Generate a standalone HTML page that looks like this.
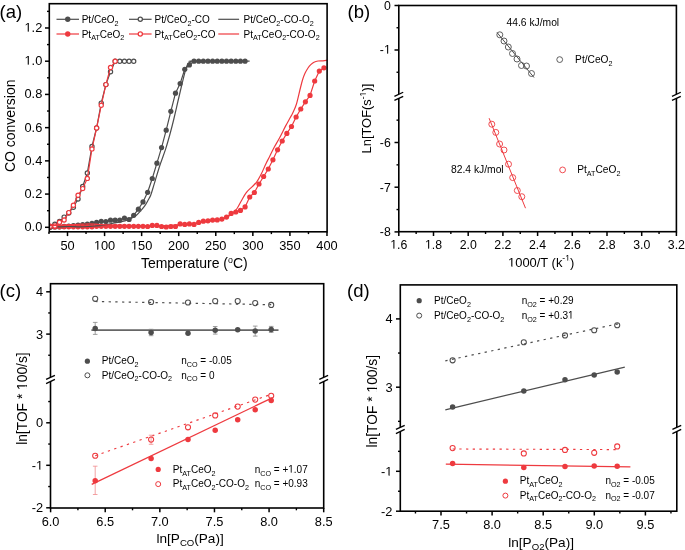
<!DOCTYPE html>
<html><head><meta charset="utf-8"><style>
html,body{margin:0;padding:0;background:#fff;width:685px;height:550px;overflow:hidden}
svg{display:block;will-change:transform}
text{font-family:"Liberation Sans", sans-serif;fill:#000}
</style></head><body>
<svg width="685" height="550" viewBox="0 0 685 550">
<defs><clipPath id="clipA"><rect x="49.3" y="3.7" width="277.8" height="228.10000000000002"/></clipPath></defs>
<rect width="685" height="550" fill="#fff"/>
<line x1="45.00" y1="227.30" x2="49.30" y2="227.30" stroke="#000" stroke-width="1.5" />
<text x="42.30" y="231.30" font-size="12.8" text-anchor="end" >0.0</text>
<line x1="45.00" y1="194.08" x2="49.30" y2="194.08" stroke="#000" stroke-width="1.5" />
<text x="42.30" y="198.08" font-size="12.8" text-anchor="end" >0.2</text>
<line x1="45.00" y1="160.86" x2="49.30" y2="160.86" stroke="#000" stroke-width="1.5" />
<text x="42.30" y="164.86" font-size="12.8" text-anchor="end" >0.4</text>
<line x1="45.00" y1="127.64" x2="49.30" y2="127.64" stroke="#000" stroke-width="1.5" />
<text x="42.30" y="131.64" font-size="12.8" text-anchor="end" >0.6</text>
<line x1="45.00" y1="94.42" x2="49.30" y2="94.42" stroke="#000" stroke-width="1.5" />
<text x="42.30" y="98.42" font-size="12.8" text-anchor="end" >0.8</text>
<line x1="45.00" y1="61.20" x2="49.30" y2="61.20" stroke="#000" stroke-width="1.5" />
<text x="42.30" y="65.20" font-size="12.8" text-anchor="end" >1.0</text>
<line x1="45.00" y1="27.98" x2="49.30" y2="27.98" stroke="#000" stroke-width="1.5" />
<text x="42.30" y="31.98" font-size="12.8" text-anchor="end" >1.2</text>
<line x1="47.00" y1="210.69" x2="49.30" y2="210.69" stroke="#000" stroke-width="1.4" />
<line x1="47.00" y1="177.47" x2="49.30" y2="177.47" stroke="#000" stroke-width="1.4" />
<line x1="47.00" y1="144.25" x2="49.30" y2="144.25" stroke="#000" stroke-width="1.4" />
<line x1="47.00" y1="111.03" x2="49.30" y2="111.03" stroke="#000" stroke-width="1.4" />
<line x1="47.00" y1="77.81" x2="49.30" y2="77.81" stroke="#000" stroke-width="1.4" />
<line x1="47.00" y1="44.59" x2="49.30" y2="44.59" stroke="#000" stroke-width="1.4" />
<line x1="47.00" y1="11.37" x2="49.30" y2="11.37" stroke="#000" stroke-width="1.4" />
<line x1="67.50" y1="231.80" x2="67.50" y2="236.10" stroke="#000" stroke-width="1.5" />
<text x="67.50" y="249.60" font-size="12.8" text-anchor="middle" >50</text>
<line x1="104.57" y1="231.80" x2="104.57" y2="236.10" stroke="#000" stroke-width="1.5" />
<text x="104.57" y="249.60" font-size="12.8" text-anchor="middle" >100</text>
<line x1="141.64" y1="231.80" x2="141.64" y2="236.10" stroke="#000" stroke-width="1.5" />
<text x="141.64" y="249.60" font-size="12.8" text-anchor="middle" >150</text>
<line x1="178.71" y1="231.80" x2="178.71" y2="236.10" stroke="#000" stroke-width="1.5" />
<text x="178.71" y="249.60" font-size="12.8" text-anchor="middle" >200</text>
<line x1="215.78" y1="231.80" x2="215.78" y2="236.10" stroke="#000" stroke-width="1.5" />
<text x="215.78" y="249.60" font-size="12.8" text-anchor="middle" >250</text>
<line x1="252.85" y1="231.80" x2="252.85" y2="236.10" stroke="#000" stroke-width="1.5" />
<text x="252.85" y="249.60" font-size="12.8" text-anchor="middle" >300</text>
<line x1="289.92" y1="231.80" x2="289.92" y2="236.10" stroke="#000" stroke-width="1.5" />
<text x="289.92" y="249.60" font-size="12.8" text-anchor="middle" >350</text>
<line x1="326.99" y1="231.80" x2="326.99" y2="236.10" stroke="#000" stroke-width="1.5" />
<text x="326.99" y="249.60" font-size="12.8" text-anchor="middle" >400</text>
<line x1="48.97" y1="231.80" x2="48.97" y2="234.10" stroke="#000" stroke-width="1.4" />
<line x1="86.03" y1="231.80" x2="86.03" y2="234.10" stroke="#000" stroke-width="1.4" />
<line x1="123.10" y1="231.80" x2="123.10" y2="234.10" stroke="#000" stroke-width="1.4" />
<line x1="160.18" y1="231.80" x2="160.18" y2="234.10" stroke="#000" stroke-width="1.4" />
<line x1="197.25" y1="231.80" x2="197.25" y2="234.10" stroke="#000" stroke-width="1.4" />
<line x1="234.31" y1="231.80" x2="234.31" y2="234.10" stroke="#000" stroke-width="1.4" />
<line x1="271.38" y1="231.80" x2="271.38" y2="234.10" stroke="#000" stroke-width="1.4" />
<line x1="308.45" y1="231.80" x2="308.45" y2="234.10" stroke="#000" stroke-width="1.4" />
<g clip-path="url(#clipA)">
<polyline points="50.20,227.30 54.84,227.00 59.48,226.80 64.12,226.40 68.76,226.00 73.40,225.50 78.04,225.00 82.68,224.50 87.32,224.00 91.96,223.40 96.60,222.40 101.24,221.30 105.88,221.60 110.52,220.20 115.16,220.20 119.80,220.20 124.44,218.00 129.08,219.50 133.72,215.30 138.36,209.20 143.00,201.90 147.64,192.30 152.28,178.50 156.92,163.20 161.56,147.60 166.20,130.20 170.84,111.30 175.48,93.20 180.12,83.60 184.76,69.30 189.40,64.90 194.04,61.20 198.68,61.20 203.32,61.20 207.96,61.20 212.60,61.20 217.24,61.20 221.88,61.20 226.52,61.20 231.16,61.20 235.80,61.20 240.44,61.20 245.08,61.20" fill="none" stroke="#4d4d4d" stroke-width="1.2" stroke-linejoin="round" />
<circle cx="50.20" cy="227.30" r="2.6" fill="#4d4d4d"/>
<circle cx="54.84" cy="227.00" r="2.6" fill="#4d4d4d"/>
<circle cx="59.48" cy="226.80" r="2.6" fill="#4d4d4d"/>
<circle cx="64.12" cy="226.40" r="2.6" fill="#4d4d4d"/>
<circle cx="68.76" cy="226.00" r="2.6" fill="#4d4d4d"/>
<circle cx="73.40" cy="225.50" r="2.6" fill="#4d4d4d"/>
<circle cx="78.04" cy="225.00" r="2.6" fill="#4d4d4d"/>
<circle cx="82.68" cy="224.50" r="2.6" fill="#4d4d4d"/>
<circle cx="87.32" cy="224.00" r="2.6" fill="#4d4d4d"/>
<circle cx="91.96" cy="223.40" r="2.6" fill="#4d4d4d"/>
<circle cx="96.60" cy="222.40" r="2.6" fill="#4d4d4d"/>
<circle cx="101.24" cy="221.30" r="2.6" fill="#4d4d4d"/>
<circle cx="105.88" cy="221.60" r="2.6" fill="#4d4d4d"/>
<circle cx="110.52" cy="220.20" r="2.6" fill="#4d4d4d"/>
<circle cx="115.16" cy="220.20" r="2.6" fill="#4d4d4d"/>
<circle cx="119.80" cy="220.20" r="2.6" fill="#4d4d4d"/>
<circle cx="124.44" cy="218.00" r="2.6" fill="#4d4d4d"/>
<circle cx="129.08" cy="219.50" r="2.6" fill="#4d4d4d"/>
<circle cx="133.72" cy="215.30" r="2.6" fill="#4d4d4d"/>
<circle cx="138.36" cy="209.20" r="2.6" fill="#4d4d4d"/>
<circle cx="143.00" cy="201.90" r="2.6" fill="#4d4d4d"/>
<circle cx="147.64" cy="192.30" r="2.6" fill="#4d4d4d"/>
<circle cx="152.28" cy="178.50" r="2.6" fill="#4d4d4d"/>
<circle cx="156.92" cy="163.20" r="2.6" fill="#4d4d4d"/>
<circle cx="161.56" cy="147.60" r="2.6" fill="#4d4d4d"/>
<circle cx="166.20" cy="130.20" r="2.6" fill="#4d4d4d"/>
<circle cx="170.84" cy="111.30" r="2.6" fill="#4d4d4d"/>
<circle cx="175.48" cy="93.20" r="2.6" fill="#4d4d4d"/>
<circle cx="180.12" cy="83.60" r="2.6" fill="#4d4d4d"/>
<circle cx="184.76" cy="69.30" r="2.6" fill="#4d4d4d"/>
<circle cx="189.40" cy="64.90" r="2.6" fill="#4d4d4d"/>
<circle cx="194.04" cy="61.20" r="2.6" fill="#4d4d4d"/>
<circle cx="198.68" cy="61.20" r="2.6" fill="#4d4d4d"/>
<circle cx="203.32" cy="61.20" r="2.6" fill="#4d4d4d"/>
<circle cx="207.96" cy="61.20" r="2.6" fill="#4d4d4d"/>
<circle cx="212.60" cy="61.20" r="2.6" fill="#4d4d4d"/>
<circle cx="217.24" cy="61.20" r="2.6" fill="#4d4d4d"/>
<circle cx="221.88" cy="61.20" r="2.6" fill="#4d4d4d"/>
<circle cx="226.52" cy="61.20" r="2.6" fill="#4d4d4d"/>
<circle cx="231.16" cy="61.20" r="2.6" fill="#4d4d4d"/>
<circle cx="235.80" cy="61.20" r="2.6" fill="#4d4d4d"/>
<circle cx="240.44" cy="61.20" r="2.6" fill="#4d4d4d"/>
<circle cx="245.08" cy="61.20" r="2.6" fill="#4d4d4d"/>
<polyline points="50.20,226.80 54.84,226.80 59.48,226.80 64.12,226.80 68.76,226.80 73.40,226.80 78.04,226.80 82.68,226.80 87.32,226.80 91.96,226.80 96.60,226.30 101.24,226.30 105.88,226.30 110.52,226.30 115.16,226.30 119.80,226.30 124.44,226.30 129.08,226.30 133.72,226.30 138.36,226.30 143.00,226.30 147.64,226.50 152.28,225.40 156.92,225.40 161.56,226.50 166.20,227.00 170.84,226.50 175.48,226.50 180.12,223.90 184.76,224.40 189.40,223.90 194.04,224.40 198.68,222.40 203.32,221.20 207.96,220.80 212.60,220.10 217.24,219.90 221.88,219.10 226.52,217.10 231.16,213.40 235.80,212.00 240.44,210.40 245.08,206.90 249.72,197.00 254.36,192.50 259.00,184.00 263.64,176.50 268.28,169.00 272.92,159.80 277.56,149.80 282.20,141.00 286.84,133.40 291.48,126.50 296.12,117.00 300.76,109.00 305.40,101.80 310.04,95.40 314.68,81.00 319.32,71.10 323.96,67.80" fill="none" stroke="#ee3a3f" stroke-width="1.2" stroke-linejoin="round" />
<circle cx="50.20" cy="226.80" r="2.6" fill="#ee3a3f"/>
<circle cx="54.84" cy="226.80" r="2.6" fill="#ee3a3f"/>
<circle cx="59.48" cy="226.80" r="2.6" fill="#ee3a3f"/>
<circle cx="64.12" cy="226.80" r="2.6" fill="#ee3a3f"/>
<circle cx="68.76" cy="226.80" r="2.6" fill="#ee3a3f"/>
<circle cx="73.40" cy="226.80" r="2.6" fill="#ee3a3f"/>
<circle cx="78.04" cy="226.80" r="2.6" fill="#ee3a3f"/>
<circle cx="82.68" cy="226.80" r="2.6" fill="#ee3a3f"/>
<circle cx="87.32" cy="226.80" r="2.6" fill="#ee3a3f"/>
<circle cx="91.96" cy="226.80" r="2.6" fill="#ee3a3f"/>
<circle cx="96.60" cy="226.30" r="2.6" fill="#ee3a3f"/>
<circle cx="101.24" cy="226.30" r="2.6" fill="#ee3a3f"/>
<circle cx="105.88" cy="226.30" r="2.6" fill="#ee3a3f"/>
<circle cx="110.52" cy="226.30" r="2.6" fill="#ee3a3f"/>
<circle cx="115.16" cy="226.30" r="2.6" fill="#ee3a3f"/>
<circle cx="119.80" cy="226.30" r="2.6" fill="#ee3a3f"/>
<circle cx="124.44" cy="226.30" r="2.6" fill="#ee3a3f"/>
<circle cx="129.08" cy="226.30" r="2.6" fill="#ee3a3f"/>
<circle cx="133.72" cy="226.30" r="2.6" fill="#ee3a3f"/>
<circle cx="138.36" cy="226.30" r="2.6" fill="#ee3a3f"/>
<circle cx="143.00" cy="226.30" r="2.6" fill="#ee3a3f"/>
<circle cx="147.64" cy="226.50" r="2.6" fill="#ee3a3f"/>
<circle cx="152.28" cy="225.40" r="2.6" fill="#ee3a3f"/>
<circle cx="156.92" cy="225.40" r="2.6" fill="#ee3a3f"/>
<circle cx="161.56" cy="226.50" r="2.6" fill="#ee3a3f"/>
<circle cx="166.20" cy="227.00" r="2.6" fill="#ee3a3f"/>
<circle cx="170.84" cy="226.50" r="2.6" fill="#ee3a3f"/>
<circle cx="175.48" cy="226.50" r="2.6" fill="#ee3a3f"/>
<circle cx="180.12" cy="223.90" r="2.6" fill="#ee3a3f"/>
<circle cx="184.76" cy="224.40" r="2.6" fill="#ee3a3f"/>
<circle cx="189.40" cy="223.90" r="2.6" fill="#ee3a3f"/>
<circle cx="194.04" cy="224.40" r="2.6" fill="#ee3a3f"/>
<circle cx="198.68" cy="222.40" r="2.6" fill="#ee3a3f"/>
<circle cx="203.32" cy="221.20" r="2.6" fill="#ee3a3f"/>
<circle cx="207.96" cy="220.80" r="2.6" fill="#ee3a3f"/>
<circle cx="212.60" cy="220.10" r="2.6" fill="#ee3a3f"/>
<circle cx="217.24" cy="219.90" r="2.6" fill="#ee3a3f"/>
<circle cx="221.88" cy="219.10" r="2.6" fill="#ee3a3f"/>
<circle cx="226.52" cy="217.10" r="2.6" fill="#ee3a3f"/>
<circle cx="231.16" cy="213.40" r="2.6" fill="#ee3a3f"/>
<circle cx="235.80" cy="212.00" r="2.6" fill="#ee3a3f"/>
<circle cx="240.44" cy="210.40" r="2.6" fill="#ee3a3f"/>
<circle cx="245.08" cy="206.90" r="2.6" fill="#ee3a3f"/>
<circle cx="249.72" cy="197.00" r="2.6" fill="#ee3a3f"/>
<circle cx="254.36" cy="192.50" r="2.6" fill="#ee3a3f"/>
<circle cx="259.00" cy="184.00" r="2.6" fill="#ee3a3f"/>
<circle cx="263.64" cy="176.50" r="2.6" fill="#ee3a3f"/>
<circle cx="268.28" cy="169.00" r="2.6" fill="#ee3a3f"/>
<circle cx="272.92" cy="159.80" r="2.6" fill="#ee3a3f"/>
<circle cx="277.56" cy="149.80" r="2.6" fill="#ee3a3f"/>
<circle cx="282.20" cy="141.00" r="2.6" fill="#ee3a3f"/>
<circle cx="286.84" cy="133.40" r="2.6" fill="#ee3a3f"/>
<circle cx="291.48" cy="126.50" r="2.6" fill="#ee3a3f"/>
<circle cx="296.12" cy="117.00" r="2.6" fill="#ee3a3f"/>
<circle cx="300.76" cy="109.00" r="2.6" fill="#ee3a3f"/>
<circle cx="305.40" cy="101.80" r="2.6" fill="#ee3a3f"/>
<circle cx="310.04" cy="95.40" r="2.6" fill="#ee3a3f"/>
<circle cx="314.68" cy="81.00" r="2.6" fill="#ee3a3f"/>
<circle cx="319.32" cy="71.10" r="2.6" fill="#ee3a3f"/>
<circle cx="323.96" cy="67.80" r="2.6" fill="#ee3a3f"/>
<path d="M49.60,226.60 C51.33,226.63 56.60,226.82 60.00,226.80 C63.40,226.78 66.67,226.48 70.00,226.50 C73.33,226.52 76.67,226.92 80.00,226.90 C83.33,226.88 86.67,226.62 90.00,226.40 C93.33,226.18 96.10,226.13 100.00,225.60 C103.90,225.07 109.23,223.98 113.40,223.20 C117.57,222.42 122.07,221.68 125.00,220.90 C127.93,220.12 129.05,219.48 131.00,218.50 C132.95,217.52 135.03,216.33 136.70,215.00 C138.37,213.67 139.63,212.05 141.00,210.50 C142.37,208.95 143.70,207.45 144.90,205.70 C146.10,203.95 147.23,201.75 148.20,200.00 C149.17,198.25 149.90,197.20 150.70,195.20 C151.50,193.20 152.22,190.53 153.00,188.00 C153.78,185.47 154.23,183.83 155.40,180.00 C156.57,176.17 158.30,170.15 160.00,165.00 C161.70,159.85 163.93,154.27 165.60,149.10 C167.27,143.93 168.67,138.85 170.00,134.00 C171.33,129.15 172.27,125.50 173.60,120.00 C174.93,114.50 176.60,107.00 178.00,101.00 C179.40,95.00 180.70,89.33 182.00,84.00 C183.30,78.67 184.80,72.33 185.80,69.00 C186.80,65.67 187.13,65.23 188.00,64.00 C188.87,62.77 190.00,62.07 191.00,61.60 C192.00,61.13 184.23,61.27 194.00,61.20 C203.77,61.13 240.33,61.20 249.60,61.20" fill="none" stroke="#4d4d4d" stroke-width="1.2"/>
<polyline points="50.20,226.80 54.84,224.20 59.48,221.50 64.12,217.10 68.76,213.00 73.40,207.20 78.04,199.00 82.68,186.50 87.32,172.90 91.96,146.50 96.60,128.00 101.24,103.10 105.88,84.60 110.52,71.70 115.16,61.30 119.80,61.30 124.44,61.30 129.08,61.30 133.72,61.30" fill="none" stroke="#4d4d4d" stroke-width="1.2" stroke-linejoin="round" />
<circle cx="50.20" cy="226.80" r="2.1" fill="#fff" stroke="#4d4d4d" stroke-width="1.2"/>
<circle cx="54.84" cy="224.20" r="2.1" fill="#fff" stroke="#4d4d4d" stroke-width="1.2"/>
<circle cx="59.48" cy="221.50" r="2.1" fill="#fff" stroke="#4d4d4d" stroke-width="1.2"/>
<circle cx="64.12" cy="217.10" r="2.1" fill="#fff" stroke="#4d4d4d" stroke-width="1.2"/>
<circle cx="68.76" cy="213.00" r="2.1" fill="#fff" stroke="#4d4d4d" stroke-width="1.2"/>
<circle cx="73.40" cy="207.20" r="2.1" fill="#fff" stroke="#4d4d4d" stroke-width="1.2"/>
<circle cx="78.04" cy="199.00" r="2.1" fill="#fff" stroke="#4d4d4d" stroke-width="1.2"/>
<circle cx="82.68" cy="186.50" r="2.1" fill="#fff" stroke="#4d4d4d" stroke-width="1.2"/>
<circle cx="87.32" cy="172.90" r="2.1" fill="#fff" stroke="#4d4d4d" stroke-width="1.2"/>
<circle cx="91.96" cy="146.50" r="2.1" fill="#fff" stroke="#4d4d4d" stroke-width="1.2"/>
<circle cx="96.60" cy="128.00" r="2.1" fill="#fff" stroke="#4d4d4d" stroke-width="1.2"/>
<circle cx="101.24" cy="103.10" r="2.1" fill="#fff" stroke="#4d4d4d" stroke-width="1.2"/>
<circle cx="105.88" cy="84.60" r="2.1" fill="#fff" stroke="#4d4d4d" stroke-width="1.2"/>
<circle cx="110.52" cy="71.70" r="2.1" fill="#fff" stroke="#4d4d4d" stroke-width="1.2"/>
<circle cx="115.16" cy="61.30" r="2.1" fill="#fff" stroke="#4d4d4d" stroke-width="1.2"/>
<circle cx="119.80" cy="61.30" r="2.1" fill="#fff" stroke="#4d4d4d" stroke-width="1.2"/>
<circle cx="124.44" cy="61.30" r="2.1" fill="#fff" stroke="#4d4d4d" stroke-width="1.2"/>
<circle cx="129.08" cy="61.30" r="2.1" fill="#fff" stroke="#4d4d4d" stroke-width="1.2"/>
<circle cx="133.72" cy="61.30" r="2.1" fill="#fff" stroke="#4d4d4d" stroke-width="1.2"/>
<polyline points="50.20,226.30 54.84,225.90 59.48,222.20 64.12,220.00 68.76,212.60 73.40,205.30 78.04,195.20 82.68,188.60 87.32,178.40 91.96,148.90 96.60,128.00 101.24,105.30 105.88,84.60 110.52,67.50 115.16,61.30" fill="none" stroke="#ee3a3f" stroke-width="1.2" stroke-linejoin="round" />
<circle cx="50.20" cy="226.30" r="2.1" fill="#fff" stroke="#ee3a3f" stroke-width="1.2"/>
<circle cx="54.84" cy="225.90" r="2.1" fill="#fff" stroke="#ee3a3f" stroke-width="1.2"/>
<circle cx="59.48" cy="222.20" r="2.1" fill="#fff" stroke="#ee3a3f" stroke-width="1.2"/>
<circle cx="64.12" cy="220.00" r="2.1" fill="#fff" stroke="#ee3a3f" stroke-width="1.2"/>
<circle cx="68.76" cy="212.60" r="2.1" fill="#fff" stroke="#ee3a3f" stroke-width="1.2"/>
<circle cx="73.40" cy="205.30" r="2.1" fill="#fff" stroke="#ee3a3f" stroke-width="1.2"/>
<circle cx="78.04" cy="195.20" r="2.1" fill="#fff" stroke="#ee3a3f" stroke-width="1.2"/>
<circle cx="82.68" cy="188.60" r="2.1" fill="#fff" stroke="#ee3a3f" stroke-width="1.2"/>
<circle cx="87.32" cy="178.40" r="2.1" fill="#fff" stroke="#ee3a3f" stroke-width="1.2"/>
<circle cx="91.96" cy="148.90" r="2.1" fill="#fff" stroke="#ee3a3f" stroke-width="1.2"/>
<circle cx="96.60" cy="128.00" r="2.1" fill="#fff" stroke="#ee3a3f" stroke-width="1.2"/>
<circle cx="101.24" cy="105.30" r="2.1" fill="#fff" stroke="#ee3a3f" stroke-width="1.2"/>
<circle cx="105.88" cy="84.60" r="2.1" fill="#fff" stroke="#ee3a3f" stroke-width="1.2"/>
<circle cx="110.52" cy="67.50" r="2.1" fill="#fff" stroke="#ee3a3f" stroke-width="1.2"/>
<circle cx="115.16" cy="61.30" r="2.1" fill="#fff" stroke="#ee3a3f" stroke-width="1.2"/>
<path d="M49.60,225.60 C51.33,225.53 56.27,225.37 60.00,225.20 C63.73,225.03 68.33,224.77 72.00,224.60 C75.67,224.43 79.00,224.33 82.00,224.20 C85.00,224.07 87.00,223.73 90.00,223.80 C93.00,223.87 95.83,224.37 100.00,224.60 C104.17,224.83 109.17,225.03 115.00,225.20 C120.83,225.37 127.50,225.50 135.00,225.60 C142.50,225.70 152.50,225.97 160.00,225.80 C167.50,225.63 174.17,224.97 180.00,224.60 C185.83,224.23 190.83,224.07 195.00,223.60 C199.17,223.13 201.67,222.32 205.00,221.80 C208.33,221.28 211.67,221.05 215.00,220.50 C218.33,219.95 222.33,219.50 225.00,218.50 C227.67,217.50 229.05,216.08 231.00,214.50 C232.95,212.92 234.97,211.30 236.70,209.00 C238.43,206.70 239.83,203.40 241.40,200.70 C242.97,198.00 244.33,195.12 246.10,192.80 C247.87,190.48 250.22,188.63 252.00,186.80 C253.78,184.97 255.22,184.02 256.80,181.80 C258.38,179.58 260.02,176.43 261.50,173.50 C262.98,170.57 264.38,166.97 265.70,164.20 C267.02,161.43 268.07,159.57 269.40,156.90 C270.73,154.23 272.02,151.35 273.70,148.20 C275.38,145.05 277.55,141.63 279.50,138.00 C281.45,134.37 283.65,129.73 285.40,126.40 C287.15,123.07 288.80,120.18 290.00,118.00 C291.20,115.82 291.55,115.55 292.60,113.30 C293.65,111.05 295.08,108.38 296.30,104.50 C297.52,100.62 298.87,94.08 299.90,90.00 C300.93,85.92 301.65,82.78 302.50,80.00 C303.35,77.22 304.08,75.30 305.00,73.30 C305.92,71.30 307.03,69.45 308.00,68.00 C308.97,66.55 309.80,65.57 310.80,64.60 C311.80,63.63 312.80,62.80 314.00,62.20 C315.20,61.60 316.50,61.23 318.00,61.00 C319.50,60.77 321.48,60.93 323.00,60.80 C324.52,60.67 326.42,60.30 327.10,60.20" fill="none" stroke="#ee3a3f" stroke-width="1.2"/>
</g>
<rect x="49.30" y="3.70" width="277.80" height="228.10" fill="none" stroke="#000" stroke-width="1.6"/>
<line x1="56.50" y1="19.30" x2="79.00" y2="19.30" stroke="#4d4d4d" stroke-width="1.2" />
<circle cx="67.75" cy="19.30" r="2.7" fill="#4d4d4d"/>
<text x="81.70" y="23.00" font-size="10.0" text-anchor="start" >Pt/CeO<tspan font-size="7.2" dy="2.6">2</tspan><tspan dy="-2.6"></tspan></text>
<line x1="129.00" y1="19.30" x2="151.60" y2="19.30" stroke="#4d4d4d" stroke-width="1.2" />
<circle cx="140.30" cy="19.30" r="2.1" fill="#fff" stroke="#4d4d4d" stroke-width="1.25"/>
<text x="154.60" y="23.00" font-size="10.0" text-anchor="start" >Pt/CeO<tspan font-size="7.2" dy="2.6">2</tspan><tspan dy="-2.6">-CO</tspan></text>
<line x1="218.30" y1="19.30" x2="239.10" y2="19.30" stroke="#4d4d4d" stroke-width="1.2" />
<text x="243.50" y="23.00" font-size="10.0" text-anchor="start" >Pt/CeO<tspan font-size="7.2" dy="2.6">2</tspan><tspan dy="-2.6">-CO-O</tspan><tspan font-size="7.2" dy="2.6">2</tspan></text>
<line x1="56.50" y1="34.00" x2="79.00" y2="34.00" stroke="#ee3a3f" stroke-width="1.2" />
<circle cx="67.75" cy="34.00" r="2.7" fill="#ee3a3f"/>
<text x="81.70" y="37.70" font-size="10.0" text-anchor="start" >Pt<tspan font-size="7.2" dy="2.6">AT</tspan><tspan dy="-2.6">CeO</tspan><tspan font-size="7.2" dy="2.6">2</tspan><tspan dy="-2.6"></tspan></text>
<line x1="129.00" y1="34.00" x2="151.60" y2="34.00" stroke="#ee3a3f" stroke-width="1.2" />
<circle cx="140.30" cy="34.00" r="2.1" fill="#fff" stroke="#ee3a3f" stroke-width="1.25"/>
<text x="154.60" y="37.70" font-size="10.0" text-anchor="start" >Pt<tspan font-size="7.2" dy="2.6">AT</tspan><tspan dy="-2.6">CeO</tspan><tspan font-size="7.2" dy="2.6">2</tspan><tspan dy="-2.6">-CO</tspan></text>
<line x1="218.30" y1="34.00" x2="239.10" y2="34.00" stroke="#ee3a3f" stroke-width="1.2" />
<text x="243.50" y="37.70" font-size="10.0" text-anchor="start" >Pt<tspan font-size="7.2" dy="2.6">AT</tspan><tspan dy="-2.6">CeO</tspan><tspan font-size="7.2" dy="2.6">2</tspan><tspan dy="-2.6">-CO-O</tspan><tspan font-size="7.2" dy="2.6">2</tspan></text>
<text x="194.30" y="268.20" font-size="14" text-anchor="middle" >Temperature (<tspan font-size="8.8" dy="-5.2">o</tspan><tspan dy="5.2">C)</tspan></text>
<text transform="translate(15.3,125.8) rotate(-90)" font-size="14" text-anchor="middle">CO conversion</text>
<text x="-0.50" y="18.00" font-size="18.5" text-anchor="start" >(a)</text>
<line x1="394.50" y1="5.50" x2="398.80" y2="5.50" stroke="#000" stroke-width="1.5" />
<text x="390.80" y="9.80" font-size="12.3" text-anchor="end" >0</text>
<line x1="394.50" y1="50.00" x2="398.80" y2="50.00" stroke="#000" stroke-width="1.5" />
<text x="390.80" y="54.30" font-size="12.3" text-anchor="end" >-1</text>
<line x1="396.50" y1="27.75" x2="398.80" y2="27.75" stroke="#000" stroke-width="1.4" />
<line x1="396.50" y1="72.25" x2="398.80" y2="72.25" stroke="#000" stroke-width="1.4" />
<line x1="394.50" y1="142.50" x2="398.80" y2="142.50" stroke="#000" stroke-width="1.5" />
<text x="390.80" y="146.80" font-size="12.3" text-anchor="end" >-6</text>
<line x1="394.50" y1="187.20" x2="398.80" y2="187.20" stroke="#000" stroke-width="1.5" />
<text x="390.80" y="191.50" font-size="12.3" text-anchor="end" >-7</text>
<line x1="394.50" y1="231.90" x2="398.80" y2="231.90" stroke="#000" stroke-width="1.5" />
<text x="390.80" y="236.20" font-size="12.3" text-anchor="end" >-8</text>
<line x1="396.50" y1="120.15" x2="398.80" y2="120.15" stroke="#000" stroke-width="1.4" />
<line x1="396.50" y1="164.85" x2="398.80" y2="164.85" stroke="#000" stroke-width="1.4" />
<line x1="396.50" y1="209.55" x2="398.80" y2="209.55" stroke="#000" stroke-width="1.4" />
<line x1="398.80" y1="231.70" x2="398.80" y2="236.00" stroke="#000" stroke-width="1.5" />
<text x="398.80" y="249.40" font-size="12.3" text-anchor="middle" >1.6</text>
<line x1="433.50" y1="231.70" x2="433.50" y2="236.00" stroke="#000" stroke-width="1.5" />
<text x="433.50" y="249.40" font-size="12.3" text-anchor="middle" >1.8</text>
<line x1="468.20" y1="231.70" x2="468.20" y2="236.00" stroke="#000" stroke-width="1.5" />
<text x="468.20" y="249.40" font-size="12.3" text-anchor="middle" >2.0</text>
<line x1="502.90" y1="231.70" x2="502.90" y2="236.00" stroke="#000" stroke-width="1.5" />
<text x="502.90" y="249.40" font-size="12.3" text-anchor="middle" >2.2</text>
<line x1="537.60" y1="231.70" x2="537.60" y2="236.00" stroke="#000" stroke-width="1.5" />
<text x="537.60" y="249.40" font-size="12.3" text-anchor="middle" >2.4</text>
<line x1="572.30" y1="231.70" x2="572.30" y2="236.00" stroke="#000" stroke-width="1.5" />
<text x="572.30" y="249.40" font-size="12.3" text-anchor="middle" >2.6</text>
<line x1="607.00" y1="231.70" x2="607.00" y2="236.00" stroke="#000" stroke-width="1.5" />
<text x="607.00" y="249.40" font-size="12.3" text-anchor="middle" >2.8</text>
<line x1="641.70" y1="231.70" x2="641.70" y2="236.00" stroke="#000" stroke-width="1.5" />
<text x="641.70" y="249.40" font-size="12.3" text-anchor="middle" >3.0</text>
<line x1="676.40" y1="231.70" x2="676.40" y2="236.00" stroke="#000" stroke-width="1.5" />
<text x="676.40" y="249.40" font-size="12.3" text-anchor="middle" >3.2</text>
<line x1="416.15" y1="231.70" x2="416.15" y2="234.00" stroke="#000" stroke-width="1.4" />
<line x1="450.85" y1="231.70" x2="450.85" y2="234.00" stroke="#000" stroke-width="1.4" />
<line x1="485.55" y1="231.70" x2="485.55" y2="234.00" stroke="#000" stroke-width="1.4" />
<line x1="520.25" y1="231.70" x2="520.25" y2="234.00" stroke="#000" stroke-width="1.4" />
<line x1="554.95" y1="231.70" x2="554.95" y2="234.00" stroke="#000" stroke-width="1.4" />
<line x1="589.65" y1="231.70" x2="589.65" y2="234.00" stroke="#000" stroke-width="1.4" />
<line x1="624.35" y1="231.70" x2="624.35" y2="234.00" stroke="#000" stroke-width="1.4" />
<line x1="659.05" y1="231.70" x2="659.05" y2="234.00" stroke="#000" stroke-width="1.4" />
<rect x="398.80" y="5.50" width="277.60" height="226.20" fill="none" stroke="#000" stroke-width="1.6"/>
<polygon points="395.80,95.60 401.80,92.80 401.80,97.00 395.80,99.80" fill="#fff"/>
<line x1="394.40" y1="96.35" x2="403.20" y2="92.25" stroke="#000" stroke-width="1.35" />
<line x1="394.40" y1="100.45" x2="403.20" y2="96.35" stroke="#000" stroke-width="1.35" />
<polygon points="673.40,95.60 679.40,92.80 679.40,97.00 673.40,99.80" fill="#fff"/>
<line x1="672.00" y1="96.35" x2="680.80" y2="92.25" stroke="#000" stroke-width="1.35" />
<line x1="672.00" y1="100.45" x2="680.80" y2="96.35" stroke="#000" stroke-width="1.35" />
<line x1="497.00" y1="32.50" x2="534.00" y2="77.50" stroke="#4d4d4d" stroke-width="1.0" />
<circle cx="499.80" cy="34.80" r="3.0" fill="none" stroke="#4d4d4d" stroke-width="0.9"/>
<circle cx="504.00" cy="41.00" r="3.0" fill="none" stroke="#4d4d4d" stroke-width="0.9"/>
<circle cx="508.30" cy="47.00" r="3.0" fill="none" stroke="#4d4d4d" stroke-width="0.9"/>
<circle cx="512.50" cy="53.50" r="3.0" fill="none" stroke="#4d4d4d" stroke-width="0.9"/>
<circle cx="517.00" cy="59.00" r="3.0" fill="none" stroke="#4d4d4d" stroke-width="0.9"/>
<circle cx="521.50" cy="65.50" r="3.0" fill="none" stroke="#4d4d4d" stroke-width="0.9"/>
<circle cx="526.50" cy="66.00" r="3.0" fill="none" stroke="#4d4d4d" stroke-width="0.9"/>
<circle cx="531.50" cy="73.50" r="3.0" fill="none" stroke="#4d4d4d" stroke-width="0.9"/>
<line x1="489.10" y1="118.20" x2="525.50" y2="208.20" stroke="#ee3a3f" stroke-width="1.0" />
<circle cx="491.80" cy="124.20" r="3.0" fill="none" stroke="#ee3a3f" stroke-width="0.9"/>
<circle cx="495.80" cy="132.40" r="3.0" fill="none" stroke="#ee3a3f" stroke-width="0.9"/>
<circle cx="499.60" cy="144.00" r="3.0" fill="none" stroke="#ee3a3f" stroke-width="0.9"/>
<circle cx="504.00" cy="150.00" r="3.0" fill="none" stroke="#ee3a3f" stroke-width="0.9"/>
<circle cx="508.50" cy="164.20" r="3.0" fill="none" stroke="#ee3a3f" stroke-width="0.9"/>
<circle cx="512.70" cy="177.60" r="3.0" fill="none" stroke="#ee3a3f" stroke-width="0.9"/>
<circle cx="517.30" cy="190.50" r="3.0" fill="none" stroke="#ee3a3f" stroke-width="0.9"/>
<circle cx="521.80" cy="196.70" r="3.0" fill="none" stroke="#ee3a3f" stroke-width="0.9"/>
<text x="506.50" y="25.60" font-size="10.3" text-anchor="start" >44.6 kJ/mol</text>
<text x="451.00" y="173.40" font-size="10.3" text-anchor="start" >82.4 kJ/mol</text>
<circle cx="559.70" cy="59.60" r="2.9" fill="none" stroke="#4d4d4d" stroke-width="0.9"/>
<text x="575.10" y="63.10" font-size="10.2" text-anchor="start" >Pt/CeO<tspan font-size="7.2" dy="2.6">2</tspan><tspan dy="-2.6"></tspan></text>
<circle cx="562.60" cy="169.90" r="2.9" fill="none" stroke="#ee3a3f" stroke-width="0.9"/>
<text x="577.20" y="173.40" font-size="10.2" text-anchor="start" >Pt<tspan font-size="7.2" dy="2.6">AT</tspan><tspan dy="-2.6">CeO</tspan><tspan font-size="7.2" dy="2.6">2</tspan><tspan dy="-2.6"></tspan></text>
<text x="541.20" y="266.50" font-size="12.9" text-anchor="middle" >1000/T (k<tspan font-size="8.6" dy="-5.2">-1</tspan><tspan dy="5.2">)</tspan></text>
<text transform="translate(371.3,118.6) rotate(-90)" font-size="12.9" text-anchor="middle">Ln[TOF(s<tspan font-size="8.6" dy="-5.2">-1</tspan><tspan dy="5.2">)]</tspan></text>
<text x="347.50" y="18.00" font-size="18.5" text-anchor="start" >(b)</text>
<line x1="46.20" y1="334.10" x2="50.50" y2="334.10" stroke="#000" stroke-width="1.5" />
<text x="43.20" y="338.50" font-size="12.8" text-anchor="end" >3</text>
<line x1="46.20" y1="291.80" x2="50.50" y2="291.80" stroke="#000" stroke-width="1.5" />
<text x="43.20" y="296.20" font-size="12.8" text-anchor="end" >4</text>
<line x1="48.20" y1="312.95" x2="50.50" y2="312.95" stroke="#000" stroke-width="1.4" />
<line x1="48.20" y1="355.25" x2="50.50" y2="355.25" stroke="#000" stroke-width="1.4" />
<line x1="46.20" y1="422.80" x2="50.50" y2="422.80" stroke="#000" stroke-width="1.5" />
<text x="43.20" y="427.20" font-size="12.8" text-anchor="end" >0</text>
<line x1="46.20" y1="465.30" x2="50.50" y2="465.30" stroke="#000" stroke-width="1.5" />
<text x="43.20" y="469.70" font-size="12.8" text-anchor="end" >-1</text>
<line x1="46.20" y1="507.80" x2="50.50" y2="507.80" stroke="#000" stroke-width="1.5" />
<text x="43.20" y="512.20" font-size="12.8" text-anchor="end" >-2</text>
<line x1="48.20" y1="401.55" x2="50.50" y2="401.55" stroke="#000" stroke-width="1.4" />
<line x1="48.20" y1="444.05" x2="50.50" y2="444.05" stroke="#000" stroke-width="1.4" />
<line x1="48.20" y1="486.55" x2="50.50" y2="486.55" stroke="#000" stroke-width="1.4" />
<line x1="50.60" y1="508.00" x2="50.60" y2="512.30" stroke="#000" stroke-width="1.5" />
<text x="50.60" y="525.80" font-size="12.8" text-anchor="middle" >6.0</text>
<line x1="105.22" y1="508.00" x2="105.22" y2="512.30" stroke="#000" stroke-width="1.5" />
<text x="105.22" y="525.80" font-size="12.8" text-anchor="middle" >6.5</text>
<line x1="159.84" y1="508.00" x2="159.84" y2="512.30" stroke="#000" stroke-width="1.5" />
<text x="159.84" y="525.80" font-size="12.8" text-anchor="middle" >7.0</text>
<line x1="214.46" y1="508.00" x2="214.46" y2="512.30" stroke="#000" stroke-width="1.5" />
<text x="214.46" y="525.80" font-size="12.8" text-anchor="middle" >7.5</text>
<line x1="269.08" y1="508.00" x2="269.08" y2="512.30" stroke="#000" stroke-width="1.5" />
<text x="269.08" y="525.80" font-size="12.8" text-anchor="middle" >8.0</text>
<line x1="323.70" y1="508.00" x2="323.70" y2="512.30" stroke="#000" stroke-width="1.5" />
<text x="323.70" y="525.80" font-size="12.8" text-anchor="middle" >8.5</text>
<line x1="77.91" y1="508.00" x2="77.91" y2="510.30" stroke="#000" stroke-width="1.4" />
<line x1="132.53" y1="508.00" x2="132.53" y2="510.30" stroke="#000" stroke-width="1.4" />
<line x1="187.15" y1="508.00" x2="187.15" y2="510.30" stroke="#000" stroke-width="1.4" />
<line x1="241.77" y1="508.00" x2="241.77" y2="510.30" stroke="#000" stroke-width="1.4" />
<line x1="296.39" y1="508.00" x2="296.39" y2="510.30" stroke="#000" stroke-width="1.4" />
<rect x="50.50" y="283.70" width="273.20" height="224.30" fill="none" stroke="#000" stroke-width="1.6"/>
<polygon points="47.50,378.70 53.50,375.90 53.50,380.10 47.50,382.90" fill="#fff"/>
<line x1="46.10" y1="379.45" x2="54.90" y2="375.35" stroke="#000" stroke-width="1.35" />
<line x1="46.10" y1="383.55" x2="54.90" y2="379.45" stroke="#000" stroke-width="1.35" />
<polygon points="320.70,378.70 326.70,375.90 326.70,380.10 320.70,382.90" fill="#fff"/>
<line x1="319.30" y1="379.45" x2="328.10" y2="375.35" stroke="#000" stroke-width="1.35" />
<line x1="319.30" y1="383.55" x2="328.10" y2="379.45" stroke="#000" stroke-width="1.35" />
<line x1="91.40" y1="330.10" x2="278.50" y2="330.10" stroke="#666" stroke-width="1.6" />
<line x1="95.2" y1="301.5" x2="271.2" y2="304.7" stroke="#4d4d4d" stroke-width="1.2" stroke-dasharray="2.3 4.4"/>
<line x1="95.20" y1="322.40" x2="95.20" y2="334.40" stroke="#888" stroke-width="0.8" />
<line x1="92.90" y1="322.40" x2="97.50" y2="322.40" stroke="#888" stroke-width="0.8" />
<line x1="92.90" y1="334.40" x2="97.50" y2="334.40" stroke="#888" stroke-width="0.8" />
<line x1="151.10" y1="329.30" x2="151.10" y2="335.70" stroke="#888" stroke-width="0.8" />
<line x1="148.80" y1="329.30" x2="153.40" y2="329.30" stroke="#888" stroke-width="0.8" />
<line x1="148.80" y1="335.70" x2="153.40" y2="335.70" stroke="#888" stroke-width="0.8" />
<line x1="215.20" y1="326.50" x2="215.20" y2="334.10" stroke="#888" stroke-width="0.8" />
<line x1="212.90" y1="326.50" x2="217.50" y2="326.50" stroke="#888" stroke-width="0.8" />
<line x1="212.90" y1="334.10" x2="217.50" y2="334.10" stroke="#888" stroke-width="0.8" />
<line x1="255.20" y1="326.10" x2="255.20" y2="336.10" stroke="#888" stroke-width="0.8" />
<line x1="252.90" y1="326.10" x2="257.50" y2="326.10" stroke="#888" stroke-width="0.8" />
<line x1="252.90" y1="336.10" x2="257.50" y2="336.10" stroke="#888" stroke-width="0.8" />
<line x1="271.20" y1="326.40" x2="271.20" y2="332.40" stroke="#888" stroke-width="0.8" />
<line x1="268.90" y1="326.40" x2="273.50" y2="326.40" stroke="#888" stroke-width="0.8" />
<line x1="268.90" y1="332.40" x2="273.50" y2="332.40" stroke="#888" stroke-width="0.8" />
<circle cx="95.20" cy="328.40" r="2.75" fill="#4d4d4d"/>
<circle cx="151.10" cy="332.50" r="2.75" fill="#4d4d4d"/>
<circle cx="188.00" cy="333.20" r="2.75" fill="#4d4d4d"/>
<circle cx="215.20" cy="330.30" r="2.75" fill="#4d4d4d"/>
<circle cx="237.70" cy="329.70" r="2.75" fill="#4d4d4d"/>
<circle cx="255.20" cy="331.10" r="2.75" fill="#4d4d4d"/>
<circle cx="271.20" cy="329.40" r="2.75" fill="#4d4d4d"/>
<circle cx="95.20" cy="298.80" r="2.55" fill="none" stroke="#4d4d4d" stroke-width="1.05"/>
<circle cx="151.10" cy="302.00" r="2.55" fill="none" stroke="#4d4d4d" stroke-width="1.05"/>
<circle cx="188.00" cy="302.50" r="2.55" fill="none" stroke="#4d4d4d" stroke-width="1.05"/>
<circle cx="215.20" cy="301.10" r="2.55" fill="none" stroke="#4d4d4d" stroke-width="1.05"/>
<circle cx="237.70" cy="301.10" r="2.55" fill="none" stroke="#4d4d4d" stroke-width="1.05"/>
<circle cx="255.20" cy="303.10" r="2.55" fill="none" stroke="#4d4d4d" stroke-width="1.05"/>
<circle cx="271.20" cy="304.90" r="2.55" fill="none" stroke="#4d4d4d" stroke-width="1.05"/>
<line x1="91.70" y1="484.30" x2="272.70" y2="397.60" stroke="#ee3a3f" stroke-width="1.3" />
<line x1="95.2" y1="455.7" x2="272.7" y2="393.8" stroke="#ee3a3f" stroke-width="1.15" stroke-dasharray="2.3 4.4"/>
<line x1="95.20" y1="466.20" x2="95.20" y2="494.50" stroke="#f08a8d" stroke-width="0.8" />
<line x1="92.90" y1="466.20" x2="97.50" y2="466.20" stroke="#f08a8d" stroke-width="0.8" />
<line x1="92.90" y1="494.50" x2="97.50" y2="494.50" stroke="#f08a8d" stroke-width="0.8" />
<line x1="151.10" y1="435.20" x2="151.10" y2="444.30" stroke="#f08a8d" stroke-width="0.8" />
<line x1="148.80" y1="435.20" x2="153.40" y2="435.20" stroke="#f08a8d" stroke-width="0.8" />
<line x1="148.80" y1="444.30" x2="153.40" y2="444.30" stroke="#f08a8d" stroke-width="0.8" />
<circle cx="95.20" cy="480.80" r="2.75" fill="#ee3a3f"/>
<circle cx="151.10" cy="458.60" r="2.75" fill="#ee3a3f"/>
<circle cx="188.00" cy="439.60" r="2.75" fill="#ee3a3f"/>
<circle cx="215.20" cy="430.30" r="2.75" fill="#ee3a3f"/>
<circle cx="237.70" cy="419.70" r="2.75" fill="#ee3a3f"/>
<circle cx="255.20" cy="409.80" r="2.75" fill="#ee3a3f"/>
<circle cx="271.20" cy="400.50" r="2.75" fill="#ee3a3f"/>
<circle cx="95.20" cy="455.70" r="2.55" fill="none" stroke="#ee3a3f" stroke-width="1.05"/>
<circle cx="151.10" cy="439.60" r="2.55" fill="none" stroke="#ee3a3f" stroke-width="1.05"/>
<circle cx="188.00" cy="427.30" r="2.55" fill="none" stroke="#ee3a3f" stroke-width="1.05"/>
<circle cx="215.20" cy="415.40" r="2.55" fill="none" stroke="#ee3a3f" stroke-width="1.05"/>
<circle cx="237.70" cy="406.60" r="2.55" fill="none" stroke="#ee3a3f" stroke-width="1.05"/>
<circle cx="255.20" cy="399.60" r="2.55" fill="none" stroke="#ee3a3f" stroke-width="1.05"/>
<circle cx="271.20" cy="395.80" r="2.55" fill="none" stroke="#ee3a3f" stroke-width="1.05"/>
<circle cx="87.40" cy="361.20" r="2.6" fill="#4d4d4d"/>
<text x="101.80" y="364.40" font-size="10.0" text-anchor="start" >Pt/CeO<tspan font-size="7.2" dy="2.6">2</tspan><tspan dy="-2.6"></tspan></text>
<circle cx="87.40" cy="375.30" r="2.5" fill="#fff" stroke="#4d4d4d" stroke-width="1.0"/>
<text x="101.80" y="378.50" font-size="10.0" text-anchor="start" >Pt/CeO<tspan font-size="7.2" dy="2.6">2</tspan><tspan dy="-2.6">-CO-O</tspan><tspan font-size="7.2" dy="2.6">2</tspan></text>
<text x="181.20" y="364.40" font-size="10.0" text-anchor="start" >n<tspan font-size="7.2" dy="2.6">CO</tspan><tspan dy="-2.6"> = -0.05</tspan></text>
<text x="181.20" y="378.50" font-size="10.0" text-anchor="start" >n<tspan font-size="7.2" dy="2.6">CO</tspan><tspan dy="-2.6"> = 0</tspan></text>
<circle cx="158.20" cy="469.40" r="2.6" fill="#ee3a3f"/>
<text x="172.80" y="472.90" font-size="10.0" text-anchor="start" >Pt<tspan font-size="7.2" dy="2.6">AT</tspan><tspan dy="-2.6">CeO</tspan><tspan font-size="7.2" dy="2.6">2</tspan><tspan dy="-2.6"></tspan></text>
<circle cx="158.20" cy="484.10" r="2.5" fill="#fff" stroke="#ee3a3f" stroke-width="1.0"/>
<text x="172.80" y="487.30" font-size="10.0" text-anchor="start" >Pt<tspan font-size="7.2" dy="2.6">AT</tspan><tspan dy="-2.6">CeO</tspan><tspan font-size="7.2" dy="2.6">2</tspan><tspan dy="-2.6">-CO-O</tspan><tspan font-size="7.2" dy="2.6">2</tspan></text>
<text x="254.70" y="472.90" font-size="10.0" text-anchor="start" >n<tspan font-size="7.2" dy="2.6">CO</tspan><tspan dy="-2.6"> = +1.07</tspan></text>
<text x="254.70" y="487.30" font-size="10.0" text-anchor="start" >n<tspan font-size="7.2" dy="2.6">CO</tspan><tspan dy="-2.6"> = +0.93</tspan></text>
<text x="190.10" y="542.70" font-size="13.6" text-anchor="middle" >ln[P<tspan font-size="9.6" dy="3.3">CO</tspan><tspan dy="-3.3">(Pa)]</tspan></text>
<text transform="translate(26.5,398.6) rotate(-90)" font-size="13.8" text-anchor="middle">ln[TOF * 100/s]</text>
<text x="-0.50" y="297.00" font-size="18.5" text-anchor="start" >(c)</text>
<line x1="396.00" y1="387.20" x2="400.30" y2="387.20" stroke="#000" stroke-width="1.5" />
<text x="392.50" y="391.60" font-size="12.8" text-anchor="end" >3</text>
<line x1="396.00" y1="318.90" x2="400.30" y2="318.90" stroke="#000" stroke-width="1.5" />
<text x="392.50" y="323.30" font-size="12.8" text-anchor="end" >4</text>
<line x1="398.00" y1="353.05" x2="400.30" y2="353.05" stroke="#000" stroke-width="1.4" />
<line x1="398.00" y1="421.35" x2="400.30" y2="421.35" stroke="#000" stroke-width="1.4" />
<line x1="396.00" y1="471.30" x2="400.30" y2="471.30" stroke="#000" stroke-width="1.5" />
<text x="392.50" y="475.70" font-size="12.8" text-anchor="end" >-1</text>
<line x1="396.00" y1="511.20" x2="400.30" y2="511.20" stroke="#000" stroke-width="1.5" />
<text x="392.50" y="515.60" font-size="12.8" text-anchor="end" >-2</text>
<line x1="398.00" y1="451.35" x2="400.30" y2="451.35" stroke="#000" stroke-width="1.4" />
<line x1="398.00" y1="491.25" x2="400.30" y2="491.25" stroke="#000" stroke-width="1.4" />
<line x1="441.00" y1="511.20" x2="441.00" y2="515.50" stroke="#000" stroke-width="1.5" />
<text x="441.00" y="528.60" font-size="12.8" text-anchor="middle" >7.5</text>
<line x1="492.10" y1="511.20" x2="492.10" y2="515.50" stroke="#000" stroke-width="1.5" />
<text x="492.10" y="528.60" font-size="12.8" text-anchor="middle" >8.0</text>
<line x1="543.20" y1="511.20" x2="543.20" y2="515.50" stroke="#000" stroke-width="1.5" />
<text x="543.20" y="528.60" font-size="12.8" text-anchor="middle" >8.5</text>
<line x1="594.30" y1="511.20" x2="594.30" y2="515.50" stroke="#000" stroke-width="1.5" />
<text x="594.30" y="528.60" font-size="12.8" text-anchor="middle" >9.0</text>
<line x1="645.40" y1="511.20" x2="645.40" y2="515.50" stroke="#000" stroke-width="1.5" />
<text x="645.40" y="528.60" font-size="12.8" text-anchor="middle" >9.5</text>
<line x1="415.45" y1="511.20" x2="415.45" y2="513.50" stroke="#000" stroke-width="1.4" />
<line x1="466.55" y1="511.20" x2="466.55" y2="513.50" stroke="#000" stroke-width="1.4" />
<line x1="517.65" y1="511.20" x2="517.65" y2="513.50" stroke="#000" stroke-width="1.4" />
<line x1="568.75" y1="511.20" x2="568.75" y2="513.50" stroke="#000" stroke-width="1.4" />
<line x1="619.85" y1="511.20" x2="619.85" y2="513.50" stroke="#000" stroke-width="1.4" />
<line x1="670.95" y1="511.20" x2="670.95" y2="513.50" stroke="#000" stroke-width="1.4" />
<rect x="400.30" y="284.90" width="276.50" height="226.30" fill="none" stroke="#000" stroke-width="1.6"/>
<polygon points="397.30,428.70 403.30,425.90 403.30,430.10 397.30,432.90" fill="#fff"/>
<line x1="395.90" y1="429.45" x2="404.70" y2="425.35" stroke="#000" stroke-width="1.35" />
<line x1="395.90" y1="433.55" x2="404.70" y2="429.45" stroke="#000" stroke-width="1.35" />
<polygon points="673.80,428.70 679.80,425.90 679.80,430.10 673.80,432.90" fill="#fff"/>
<line x1="672.40" y1="429.45" x2="681.20" y2="425.35" stroke="#000" stroke-width="1.35" />
<line x1="672.40" y1="433.55" x2="681.20" y2="429.45" stroke="#000" stroke-width="1.35" />
<line x1="445.30" y1="409.80" x2="624.80" y2="367.20" stroke="#4d4d4d" stroke-width="1.2" />
<line x1="445.3" y1="360.8" x2="618.1" y2="323.8" stroke="#4d4d4d" stroke-width="1.2" stroke-dasharray="2.3 4.4"/>
<circle cx="452.60" cy="407.00" r="2.75" fill="#4d4d4d"/>
<circle cx="523.80" cy="390.90" r="2.75" fill="#4d4d4d"/>
<circle cx="565.00" cy="379.80" r="2.75" fill="#4d4d4d"/>
<circle cx="594.20" cy="374.90" r="2.75" fill="#4d4d4d"/>
<circle cx="617.20" cy="371.90" r="2.75" fill="#4d4d4d"/>
<circle cx="452.60" cy="360.30" r="2.55" fill="none" stroke="#4d4d4d" stroke-width="1.05"/>
<circle cx="523.80" cy="342.20" r="2.55" fill="none" stroke="#4d4d4d" stroke-width="1.05"/>
<circle cx="565.00" cy="335.40" r="2.55" fill="none" stroke="#4d4d4d" stroke-width="1.05"/>
<circle cx="594.20" cy="330.20" r="2.55" fill="none" stroke="#4d4d4d" stroke-width="1.05"/>
<circle cx="617.20" cy="325.20" r="2.55" fill="none" stroke="#4d4d4d" stroke-width="1.05"/>
<line x1="445.80" y1="464.20" x2="630.40" y2="466.80" stroke="#ee3a3f" stroke-width="1.3" />
<line x1="452.6" y1="449" x2="618.1" y2="449.6" stroke="#ee3a3f" stroke-width="1.15" stroke-dasharray="2.3 4.4"/>
<circle cx="452.60" cy="463.60" r="2.75" fill="#ee3a3f"/>
<circle cx="523.80" cy="467.40" r="2.75" fill="#ee3a3f"/>
<circle cx="565.00" cy="466.50" r="2.75" fill="#ee3a3f"/>
<circle cx="594.20" cy="465.90" r="2.75" fill="#ee3a3f"/>
<circle cx="617.20" cy="466.20" r="2.75" fill="#ee3a3f"/>
<circle cx="452.60" cy="448.10" r="2.55" fill="none" stroke="#ee3a3f" stroke-width="1.05"/>
<circle cx="523.80" cy="453.40" r="2.55" fill="none" stroke="#ee3a3f" stroke-width="1.05"/>
<circle cx="565.00" cy="449.90" r="2.55" fill="none" stroke="#ee3a3f" stroke-width="1.05"/>
<circle cx="594.20" cy="452.80" r="2.55" fill="none" stroke="#ee3a3f" stroke-width="1.05"/>
<circle cx="617.20" cy="446.40" r="2.55" fill="none" stroke="#ee3a3f" stroke-width="1.05"/>
<circle cx="419.20" cy="300.70" r="2.6" fill="#4d4d4d"/>
<text x="434.10" y="304.10" font-size="10.0" text-anchor="start" >Pt/CeO<tspan font-size="7.2" dy="2.6">2</tspan><tspan dy="-2.6"></tspan></text>
<circle cx="419.20" cy="315.60" r="2.5" fill="#fff" stroke="#4d4d4d" stroke-width="1.0"/>
<text x="434.10" y="319.00" font-size="10.0" text-anchor="start" >Pt/CeO<tspan font-size="7.2" dy="2.6">2</tspan><tspan dy="-2.6">-CO-O</tspan><tspan font-size="7.2" dy="2.6">2</tspan></text>
<text x="521.70" y="304.10" font-size="10.0" text-anchor="start" >n<tspan font-size="7.2" dy="2.6">O2</tspan><tspan dy="-2.6"> = +0.29</tspan></text>
<text x="521.70" y="319.00" font-size="10.0" text-anchor="start" >n<tspan font-size="7.2" dy="2.6">O2</tspan><tspan dy="-2.6"> = +0.31</tspan></text>
<circle cx="505.40" cy="481.20" r="2.6" fill="#ee3a3f"/>
<text x="519.80" y="484.10" font-size="10.0" text-anchor="start" >Pt<tspan font-size="7.2" dy="2.6">AT</tspan><tspan dy="-2.6">CeO</tspan><tspan font-size="7.2" dy="2.6">2</tspan><tspan dy="-2.6"></tspan></text>
<circle cx="505.40" cy="495.60" r="2.5" fill="#fff" stroke="#ee3a3f" stroke-width="1.0"/>
<text x="519.80" y="498.50" font-size="10.0" text-anchor="start" >Pt<tspan font-size="7.2" dy="2.6">AT</tspan><tspan dy="-2.6">CeO</tspan><tspan font-size="7.2" dy="2.6">2</tspan><tspan dy="-2.6">-CO-O</tspan><tspan font-size="7.2" dy="2.6">2</tspan></text>
<text x="605.40" y="484.10" font-size="10.0" text-anchor="start" >n<tspan font-size="7.2" dy="2.6">O2</tspan><tspan dy="-2.6"> = -0.05</tspan></text>
<text x="605.40" y="498.50" font-size="10.0" text-anchor="start" >n<tspan font-size="7.2" dy="2.6">O2</tspan><tspan dy="-2.6"> = -0.07</tspan></text>
<text x="541.10" y="547.00" font-size="13.6" text-anchor="middle" >ln[P<tspan font-size="9.6" dy="3.3">O2</tspan><tspan dy="-3.3">(Pa)]</tspan></text>
<text transform="translate(376.5,401.2) rotate(-90)" font-size="13.8" text-anchor="middle">ln[TOF * 100/s]</text>
<text x="347.00" y="296.50" font-size="18.5" text-anchor="start" >(d)</text>
<g><rect x="25.02" y="64" width="6.40" height="1" fill="#fff"/><rect x="27.72" y="64" width="1.13" height="1" fill="#000" fill-opacity="0.62"/><rect x="25.02" y="31" width="6.40" height="1" fill="#fff"/><rect x="27.72" y="31" width="1.13" height="1" fill="#000" fill-opacity="0.62"/><rect x="94.40" y="249" width="6.40" height="1" fill="#fff"/><rect x="97.11" y="249" width="1.13" height="1" fill="#000" fill-opacity="0.62"/><rect x="131.47" y="249" width="6.40" height="1" fill="#fff"/><rect x="134.18" y="249" width="1.13" height="1" fill="#000" fill-opacity="0.62"/><rect x="384.45" y="53" width="6.15" height="1" fill="#fff"/><rect x="387.05" y="53" width="1.09" height="1" fill="#000" fill-opacity="0.62"/><rect x="390.74" y="248" width="6.15" height="1" fill="#fff"/><rect x="393.34" y="248" width="1.09" height="1" fill="#000" fill-opacity="0.62"/><rect x="425.44" y="248" width="6.15" height="1" fill="#fff"/><rect x="428.04" y="248" width="1.09" height="1" fill="#000" fill-opacity="0.62"/><rect x="508.63" y="266" width="6.45" height="1" fill="#fff"/><rect x="511.36" y="266" width="1.14" height="1" fill="#000" fill-opacity="0.62"/><rect x="565.54" y="260" width="4.30" height="1" fill="#fff"/><rect x="567.36" y="260" width="0.76" height="1" fill="#000" fill-opacity="0.62"/><g transform="matrix(0.0000,-1.0000,1.0000,0.0000,371.300,118.600)"><rect x="22.45" y="-6.39" width="1.88" height="1.65" fill="#fff"/><rect x="25.15" y="-6.39" width="1.80" height="1.65" fill="#fff"/></g><rect x="36.57" y="469" width="6.40" height="1" fill="#fff"/><rect x="39.28" y="469" width="1.13" height="1" fill="#000" fill-opacity="0.62"/><rect x="288.68" y="472" width="5.00" height="1" fill="#fff"/><rect x="290.79" y="472" width="0.88" height="1" fill="#000" fill-opacity="0.62"/><g transform="matrix(0.0000,-1.0000,1.0000,0.0000,26.500,398.600)"><rect x="9.29" y="-1.58" width="2.81" height="2.04" fill="#fff"/><rect x="13.41" y="-1.58" width="2.68" height="2.04" fill="#fff"/></g><rect x="385.87" y="475" width="6.40" height="1" fill="#fff"/><rect x="388.58" y="475" width="1.13" height="1" fill="#000" fill-opacity="0.62"/><rect x="568.38" y="318" width="5.00" height="1" fill="#fff"/><rect x="570.50" y="318" width="0.88" height="1" fill="#000" fill-opacity="0.62"/><g transform="matrix(0.0000,-1.0000,1.0000,0.0000,376.500,401.200)"><rect x="9.29" y="-1.58" width="2.81" height="2.04" fill="#fff"/><rect x="13.41" y="-1.58" width="2.68" height="2.04" fill="#fff"/></g></g>
</svg></body></html>
